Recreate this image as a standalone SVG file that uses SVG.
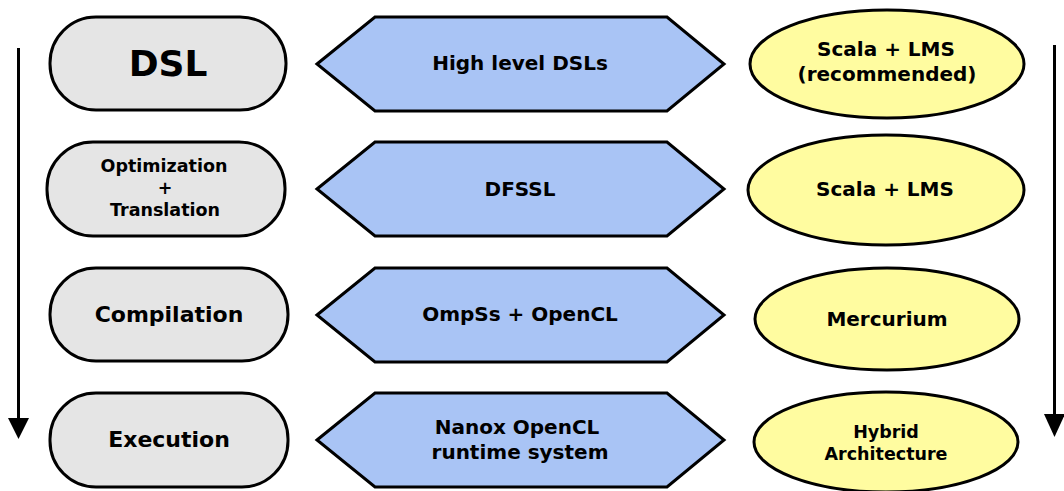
<svg xmlns="http://www.w3.org/2000/svg" width="1064" height="491" viewBox="0 0 1064 491">
<style>
text{font-family:"DejaVu Sans",sans-serif;font-weight:bold;fill:#000;text-anchor:middle;dominant-baseline:central}
.r{fill:#e5e5e5;stroke:#000;stroke-width:3}
.h{fill:#a9c4f5;stroke:#000;stroke-width:3;stroke-linejoin:miter}
.e{fill:#fffca0;stroke:#000;stroke-width:3}
.a{stroke:#000;stroke-width:3;fill:none}
</style>
<rect width="1064" height="491" fill="#fff"/>
<g id="connectors">
<line class="a" x1="18.5" y1="48" x2="18.5" y2="420"/>
<polygon points="8,418 29,418 18.5,439" fill="#000"/>
<line class="a" x1="1054.5" y1="45" x2="1054.5" y2="416"/>
<polygon points="1044,414 1065,414 1054.5,437" fill="#000"/>
</g>
<g id="n-dsl"><rect class="r" x="50" y="17" width="236" height="93" rx="46"/><text x="168" y="63" font-size="36">DSL</text></g>
<g id="n-opt"><rect class="r" x="47" y="142" width="238" height="94" rx="46"/><text x="164" y="166" font-size="17.5">Optimization</text><text x="165" y="188" font-size="17.5">+</text><text x="165" y="210" font-size="17.5">Translation</text></g>
<g id="n-comp"><rect class="r" x="50" y="268" width="238" height="93" rx="46"/><text x="169" y="314" font-size="22">Compilation</text></g>
<g id="n-exec"><rect class="r" x="50" y="393" width="238" height="94" rx="46"/><text x="169" y="439" font-size="22">Execution</text></g>
<g id="h-dsls"><polygon class="h" points="317,64 375,17 667,17 724,64 667,111 375,111"/><text x="520" y="63" font-size="20">High level DSLs</text></g>
<g id="h-dfssl"><polygon class="h" points="317,189 375,142 667,142 724,189 667,236 375,236"/><text x="520" y="189" font-size="20">DFSSL</text></g>
<g id="h-ompss"><polygon class="h" points="317,315 375,268 667,268 724,315 667,362 375,362"/><text x="520" y="314" font-size="20">OmpSs + OpenCL</text></g>
<g id="h-nanox"><polygon class="h" points="317,440 375,393 667,393 724,440 667,487 375,487"/><text x="517" y="427" font-size="20">Nanox OpenCL</text><text x="520" y="452" font-size="20">runtime system</text></g>
<g id="e-lms1"><ellipse class="e" cx="887" cy="64" rx="137" ry="54"/><text x="886" y="49" font-size="20">Scala + LMS</text><text x="887" y="74" font-size="20">(recommended)</text></g>
<g id="e-lms2"><ellipse class="e" cx="886" cy="190" rx="138" ry="55"/><text x="885" y="189" font-size="20">Scala + LMS</text></g>
<g id="e-merc"><ellipse class="e" cx="887" cy="319" rx="132" ry="51"/><text x="887" y="319" font-size="20">Mercurium</text></g>
<g id="e-hyb"><ellipse class="e" cx="886" cy="442" rx="132" ry="50"/><text x="886" y="432" font-size="17.5">Hybrid</text><text x="886" y="454" font-size="17.5">Architecture</text></g>
</svg>
